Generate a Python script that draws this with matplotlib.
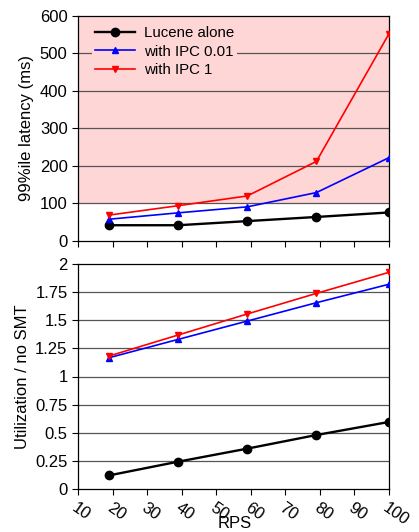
import matplotlib
matplotlib.use("Agg")
import matplotlib.pyplot as plt
from matplotlib.patches import Rectangle

plt.rcParams['font.family'] = ['Liberation Sans', 'DejaVu Sans']

rps = [19, 39, 59, 79, 100]
xticks = [10, 20, 30, 40, 50, 60, 70, 80, 90, 100]

lat_lucene = [42, 42, 53, 64, 76]
lat_ipc001 = [58, 75, 91, 129, 222]
lat_ipc1 = [69, 94, 120, 212, 552]

util_lucene = [0.121, 0.243, 0.359, 0.48, 0.596]
util_ipc001 = [1.167, 1.33, 1.493, 1.656, 1.82]
util_ipc1 = [1.182, 1.369, 1.556, 1.739, 1.926]

labels = ['Lucene alone', 'with IPC 0.01', 'with IPC 1']

fig = plt.figure(figsize=(4.19, 5.32), dpi=100)
W, H = 419, 532
ax1 = fig.add_axes([78 / W, 1 - 241 / H, (389 - 78) / W, (241 - 15.7) / H])
ax2 = fig.add_axes([78 / W, 1 - 489 / H, (389 - 78) / W, (489 - 264) / H])

grid_kw = dict(color='#555555', linewidth=0.9)
blk = dict(color='black', marker='o', markersize=6, linewidth=1.7, zorder=3)
blu = dict(color='blue', marker='^', markersize=4.5, linewidth=1.2, zorder=3)
red = dict(color='red', marker='v', markersize=4.5, linewidth=1.2, zorder=3)

# top
ax1.add_patch(Rectangle((10, 100), 90, 500, facecolor='#ffd6d6', edgecolor='none', zorder=0))
for y in [100, 200, 300, 400, 500]:
    ax1.axhline(y, zorder=1, **grid_kw)
ax1.plot(rps, lat_lucene, label=labels[0], **blk)
ax1.plot(rps, lat_ipc001, label=labels[1], **blu)
ax1.plot(rps, lat_ipc1, label=labels[2], **red)
ax1.set_xlim(10, 100)
ax1.set_ylim(0, 600)
ax1.set_xticks(xticks)
ax1.set_xticklabels([])
ax1.set_yticks([0, 100, 200, 300, 400, 500, 600])
ax1.set_ylabel('99%ile latency (ms)', fontsize=12)
leg = ax1.legend(loc='upper left', frameon=True, fontsize=10.8, handlelength=2.7,
                 handletextpad=0.6,
                 facecolor='#ffd6d6', edgecolor='none', framealpha=1, fancybox=False,
                 borderpad=0.2, labelspacing=0.3, bbox_to_anchor=(0.02, 1.0))
leg.set_zorder(5)

# bottom
for y in [0.25, 0.5, 0.75, 1, 1.25, 1.5, 1.75]:
    ax2.axhline(y, zorder=1, **grid_kw)
ax2.plot(rps, util_lucene, **blk)
ax2.plot(rps, util_ipc001, **blu)
ax2.plot(rps, util_ipc1, **red)
ax2.set_xlim(10, 100)
ax2.set_ylim(0, 2)
ax2.set_xticks(xticks)
ax2.set_xticklabels([str(t) for t in xticks], rotation=-35, ha='left', va='top',
                    rotation_mode='anchor')
ax2.set_yticks([0, 0.25, 0.5, 0.75, 1, 1.25, 1.5, 1.75, 2])
ax2.set_yticklabels(['0', '0.25', '0.5', '0.75', '1', '1.25', '1.5', '1.75', '2'])
ax2.set_ylabel('Utilization / no SMT', fontsize=12)
ax2.set_xlabel('RPS', fontsize=12)
ax2.xaxis.set_label_coords((235 - 78) / (389 - 78), -(524 - 489) / (489 - 264))
ax2.xaxis.label.set_va('center')

for ax in (ax1, ax2):
    ax.tick_params(axis='both', labelsize=12, direction='out', length=4, width=0.8)
    for s in ax.spines.values():
        s.set_linewidth(0.9)
ax2.tick_params(axis='x', pad=4)

fig.savefig('out.png', dpi=100)
